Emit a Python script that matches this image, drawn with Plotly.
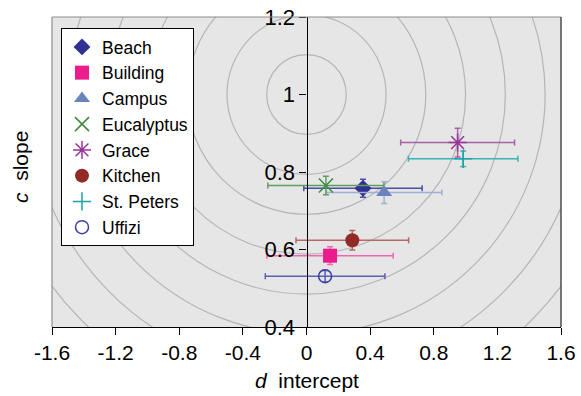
import plotly.graph_objects as go

# ---- data ----
sites = ["Beach", "Building", "Campus", "Eucalyptus", "Grace", "Kitchen", "St. Peters", "Uffizi"]
d_intercept = [0.355, 0.148, 0.488, 0.122, 0.950, 0.288, 0.985, 0.117]
d_err = [0.372, 0.397, 0.363, 0.365, 0.358, 0.354, 0.344, 0.376]
c_slope = [0.758, 0.584, 0.747, 0.765, 0.876, 0.624, 0.834, 0.531]
c_err = [0.023, 0.023, 0.028, 0.024, 0.037, 0.025, 0.020, 0.015]

x_ticks = [-1.6, -1.2, -0.8, -0.4, 0, 0.4, 0.8, 1.2, 1.6]
x_ticklabels = ["-1.6", "-1.2", "-0.8", "-0.4", "0", "0.4", "0.8", "1.2", "1.6"]
y_ticks = [0.4, 0.6, 0.8, 1.0, 1.2]
y_ticklabels = ["0.4", "0.6", "0.8", "1", "1.2"]

# concentric reference rings around (d=0, c=1)
ring_d = [0.25, 0.5, 0.75, 1.0, 1.25, 1.5, 1.75, 2.0]
ring_c = [0.103, 0.206, 0.309, 0.412, 0.515, 0.618, 0.721, 0.824]

# ---- styles ----
symbols = ["diamond", "square", "triangle-up", "x-thin-open", "asterisk-open",
           "circle", "cross-thin-open", "circle-open"]
marker_colors = ["#2e3192", "#ec1c8c", "#6a84bd", "#3d8a3d", "#983399",
                 "#922a25", "#1aa3a8", "#3b3fa3"]
err_colors = ["#4a4ea8", "#f066b0", "#9fb0d8", "#5f9f5f", "#a860a8",
              "#b46a66", "#3ab3b8", "#5a5eb5"]
sizes = [13, 14, 14, 14, 15, 14, 13, 13]

FONT = "Arial, Liberation Sans, sans-serif"

fig = go.Figure()

for i, name in enumerate(sites):
    open_sym = symbols[i].endswith("open")
    fig.add_trace(go.Scatter(
        x=[d_intercept[i]], y=[c_slope[i]], name=name, mode="markers",
        marker=dict(symbol=symbols[i], size=sizes[i], color=marker_colors[i],
                    line=dict(width=1.5 if open_sym else 0, color=marker_colors[i])),
        error_x=dict(type="data", array=[d_err[i]], color=err_colors[i],
                     thickness=1.5, width=3),
        error_y=dict(type="data", array=[c_err[i]], color=err_colors[i],
                     thickness=1.5, width=3),
    ))

shapes = []
for rd, rc in zip(ring_d, ring_c):
    shapes.append(dict(type="circle", xref="x", yref="y", x0=-rd, x1=rd,
                       y0=1 - rc, y1=1 + rc, layer="below",
                       line=dict(color="#b5b5b5", width=1.2)))
# plot frame
shapes.append(dict(type="line", xref="paper", yref="paper", x0=0, x1=1, y0=1, y1=1,
                   line=dict(color="#8c8c8c", width=1.2)))
shapes.append(dict(type="line", xref="paper", yref="paper", x0=0, x1=0, y0=0, y1=1,
                   line=dict(color="#8c8c8c", width=1.2)))
shapes.append(dict(type="line", xref="paper", yref="paper", x0=1, x1=1, y0=0, y1=1,
                   line=dict(color="#4d4d4d", width=1.5)))

fig.update_layout(
    width=581, height=396,
    margin=dict(l=52, r=20, t=17, b=69, autoexpand=False),
    paper_bgcolor="white", plot_bgcolor="#e6e6e6",
    font=dict(family=FONT, color="black"),
    showlegend=True,
    legend=dict(x=0.0177, y=0.9645, xanchor="left", yanchor="top",
                bgcolor="white", bordercolor="black", borderwidth=1,
                font=dict(size=17.5, family=FONT), itemwidth=30,
                tracegroupgap=0),
    xaxis=dict(range=[-1.6, 1.6], tickvals=x_ticks, ticktext=x_ticklabels,
               showgrid=False, zeroline=False, showline=True, linecolor="black",
               linewidth=1.2, ticks="outside", ticklen=7, tickcolor="black",
               automargin=False, tickfont=dict(size=21, family=FONT)),
    yaxis=dict(range=[0.4, 1.2], tickvals=y_ticks, ticktext=y_ticklabels,
               showgrid=False, zeroline=False, showline=True, linecolor="black",
               linewidth=1.2, ticks="outside", ticklen=7, tickcolor="black",
               anchor="free", position=0.5, side="left", automargin=False,
               tickfont=dict(size=22, family=FONT)),
    shapes=shapes,
    annotations=[
        dict(text="<i>d</i>  intercept", xref="paper", yref="paper", x=0.5, y=-0.174,
             xanchor="center", yanchor="middle", showarrow=False,
             font=dict(size=21, family=FONT)),
        dict(text="<i>c</i>  slope", xref="paper", yref="paper", x=-0.063, y=0.516,
             xanchor="center", yanchor="middle", showarrow=False, textangle=-90,
             font=dict(size=21, family=FONT)),
    ],
)

fig.write_html("out.html", config={"displayModeBar": False},
               post_script="document.body.style.margin='0px';")
